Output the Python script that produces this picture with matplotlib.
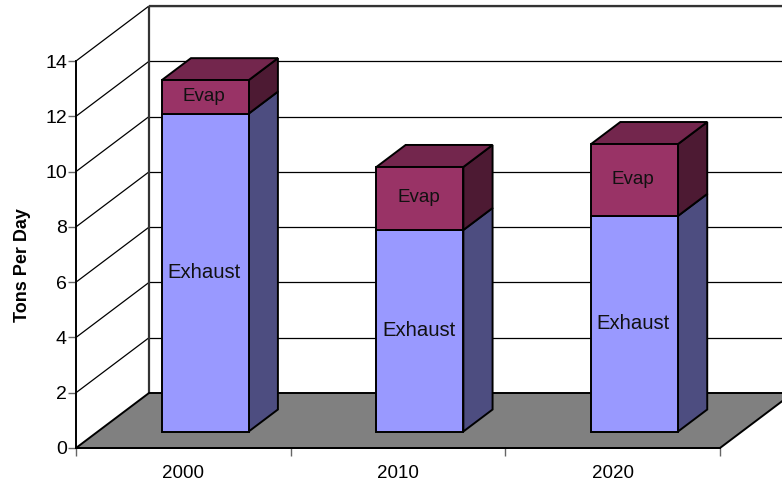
import matplotlib
matplotlib.use('Agg')
import numpy as np
import matplotlib.pyplot as plt
from matplotlib.patches import Polygon

plt.rcParams['font.family'] = ['Liberation Sans', 'DejaVu Sans']

years = ['2000', '2010', '2020']
exhaust = [11.5, 7.29, 7.8]
evap = [1.21, 2.28, 2.6]
yticks = [0, 2, 4, 6, 8, 10, 12, 14]

W, H = 782, 482
# plot box in pixels, front plane
x0, x1, y0, y1 = 76, 720, 448, 61
# depth of the oblique box in pixels
dpx, dpy = 73, 55

fig = plt.figure(figsize=(W / 100, H / 100), dpi=100)
ax = fig.add_axes([x0 / W, 1 - y0 / H, (x1 - x0) / W, (y0 - y1) / H])
ax.set_xlim(-0.5, 2.5)
ax.set_ylim(0, 14)
ax.patch.set_visible(False)

sx = (x1 - x0) / 3
sy = (y0 - y1) / 14


def pr(x, y, d):
    # oblique projection, d=0 front of box, d=1 back wall
    return (x + d * dpx / sx, y + d * dpy / sy)


def poly(pts, fc, z, lw=1.4):
    p = Polygon(pts, closed=True, fc=fc, ec='black', lw=lw, zorder=z,
                clip_on=False, joinstyle='miter')
    ax.add_patch(p)


def line(a, b, lw=1.0, color='black', z=1):
    ax.plot([a[0], b[0]], [a[1], b[1]], color=color, lw=lw, zorder=z,
            clip_on=False, solid_capstyle='butt')


# walls and gridlines
for v in yticks[1:]:
    line(pr(-0.5, v, 0), pr(-0.5, v, 1), lw=0.9)
    line(pr(-0.5, v, 1), pr(2.5, v, 1), lw=0.9)
line(pr(-0.5, 14, 1), pr(2.5, 14, 1), lw=1.6, color='#333333')
line(pr(-0.5, 0, 1), pr(-0.5, 14, 1), lw=1.6, color='#333333')

# floor
poly([pr(-0.5, 0, 0), pr(2.5, 0, 0), pr(2.5, 0, 1), pr(-0.5, 0, 1)], '#808080', 2)


def shade(c, f):
    return tuple(v * f for v in matplotlib.colors.to_rgb(c))


def box(x, b, t, col, z, top=False):
    w = 0.2025
    d0, d1 = 0.3, 0.7
    poly([pr(x - w, b, d0), pr(x + w, b, d0), pr(x + w, t, d0), pr(x - w, t, d0)], col, z + 0.2)
    poly([pr(x + w, b, d0), pr(x + w, b, d1), pr(x + w, t, d1), pr(x + w, t, d0)], shade(col, 0.5), z)
    if top:
        poly([pr(x - w, t, d0), pr(x + w, t, d0), pr(x + w, t, d1), pr(x - w, t, d1)], shade(col, 0.75), z + 0.1)


for i in range(len(years)):
    box(i, 0, exhaust[i], '#9999FF', 3 + i)
    box(i, exhaust[i], exhaust[i] + evap[i], '#993366', 3 + i + 0.5, top=True)
    tx, ty = pr(i, exhaust[i] / 2 + 0.02, 0.3)
    ax.text(tx - 0.006, ty, 'Exhaust', ha='center', va='center', fontsize=14.6, zorder=9, color='#111111')
    tx, ty = pr(i, exhaust[i] + evap[i] / 2 + 0.02, 0.3)
    ax.text(tx - 0.006, ty, 'Evap', ha='center', va='center', fontsize=13.5, zorder=9, color='#111111')

# axes
for s in ['top', 'right']:
    ax.spines[s].set_visible(False)
for s in ['left', 'bottom']:
    ax.spines[s].set_linewidth(1.4)
    ax.spines[s].set_zorder(8)
ax.set_yticks(yticks)
ax.set_xticks([-0.5, 0.5, 1.5, 2.5])
ax.set_xticklabels([])
ax.set_xticks([0, 1, 2], minor=True)
ax.set_xticklabels(years, minor=True)
ax.tick_params(axis='x', which='minor', length=0, labelsize=13.5, pad=12)
ax.tick_params(axis='x', which='major', length=6, width=1.0, color='#666666')
ax.tick_params(axis='y', length=6, width=1.0, color='#666666', labelsize=14, pad=0.5)
ax.set_ylabel('Tons Per Day', fontsize=13, fontweight='bold')
ax.yaxis.set_label_coords(-0.07, 0.473)

fig.savefig('out.png', dpi=100)
